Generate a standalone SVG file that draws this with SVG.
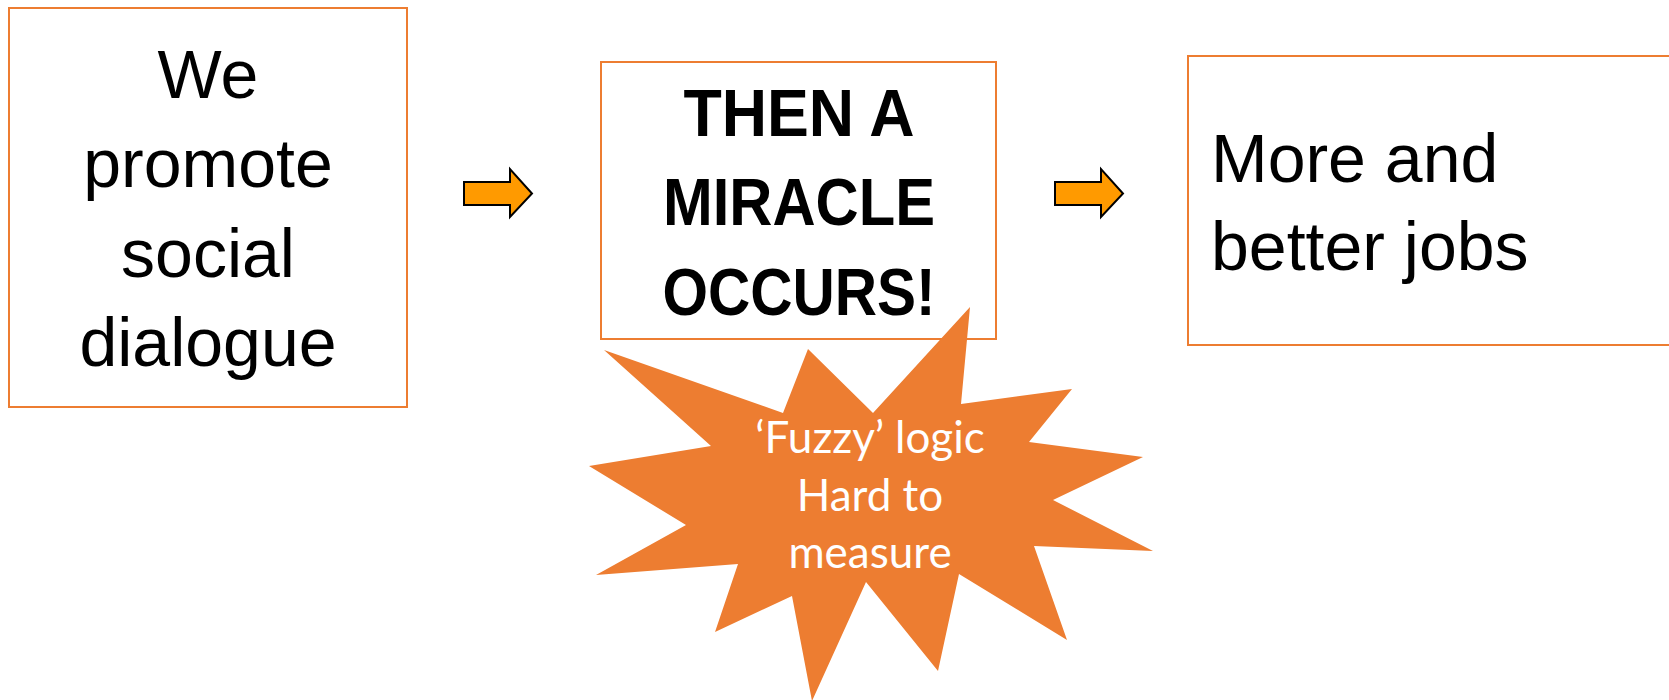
<svg xmlns="http://www.w3.org/2000/svg" width="1669" height="700" viewBox="0 0 1669 700">
<style>
.box{fill:#ffffff;stroke:#ED7D31;stroke-width:2}
.t{font-family:"Liberation Sans",Arial,sans-serif;font-size:68px;fill:#000}
.b{font-family:"Liberation Sans",Arial,sans-serif;font-size:66px;font-weight:bold;fill:#000}
.s{font-family:"Lato","Liberation Sans",sans-serif;font-size:44px;fill:#ffffff}
.arrow{fill:#FF9A00;stroke:#000;stroke-width:2;stroke-linejoin:miter}
</style>
<rect width="1669" height="700" fill="#ffffff"/>
<g id="node-promote">
<rect class="box" x="9" y="8" width="398" height="399"/>
<text class="t" text-anchor="middle" x="208" y="98">We</text>
<text class="t" text-anchor="middle" x="208" y="187">promote</text>
<text class="t" text-anchor="middle" x="208" y="277">social</text>
<text class="t" text-anchor="middle" x="208" y="366">dialogue</text>
</g>
<g id="node-miracle">
<rect class="box" x="601" y="62" width="395" height="277"/>
<text class="b" text-anchor="middle" x="799" y="136" textLength="231" lengthAdjust="spacingAndGlyphs">THEN A</text>
<text class="b" text-anchor="middle" x="799" y="225" textLength="272" lengthAdjust="spacingAndGlyphs">MIRACLE</text>
<text class="b" text-anchor="middle" x="799" y="315" textLength="273" lengthAdjust="spacingAndGlyphs">OCCURS!</text>
</g>
<g id="node-jobs">
<rect class="box" x="1188" y="56" width="520" height="289"/>
<text class="t" x="1211" y="182">More and</text>
<text class="t" x="1211" y="270">better jobs</text>
</g>
<g id="connectors">
<polygon class="arrow" points="464,182 510,182 510,169 532,193.5 510,217 510,205 464,205"/>
<polygon class="arrow" points="1055,182 1101,182 1101,169 1123,193.5 1101,217 1101,205 1055,205"/>
</g>
<g id="node-fuzzy">
<polygon fill="#ED7D31" points="604,350 711,446 589,466 686,525 596,575 738,564 715,632 792,596 812,701 866,582 938,671 959,574 1067,640 1034,546 1153,551 1053,500 1143,457 1029,442 1072,389 961,404 970,307 873,413 808,349 783,413"/>
<text class="s" text-anchor="middle" x="870" y="453">‘Fuzzy’ logic</text>
<text class="s" text-anchor="middle" x="870" y="511">Hard to</text>
<text class="s" text-anchor="middle" x="870" y="568">measure</text>
</g>
</svg>
